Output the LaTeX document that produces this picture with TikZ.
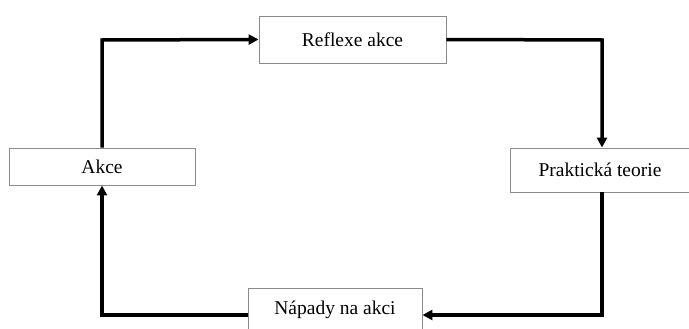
\documentclass[tikz,border=0pt]{standalone}
\usepackage{fontspec}
\setmainfont{Liberation Serif}
\usetikzlibrary{arrows.meta}
\begin{document}
\begin{tikzpicture}[x=1pt,y=-1pt,
  box/.style={draw=black!45, line width=0.9pt, fill=white, inner sep=0pt, font=\fontsize{19.5}{23}\selectfont},
  flow/.style={line width=3.5pt, -{Triangle[length=10pt,width=10pt]}}]
\useasboundingbox (0,0) rectangle (689,329);
\clip (0,0) rectangle (689,329);
\node[box, minimum width=187pt, minimum height=47pt] (refl) at (352.5,39.5) {Reflexe akce};
\node[box, minimum width=182pt, minimum height=44pt] (prak) at (601,170) {};
\node[font=\fontsize{19.5}{23}\selectfont] (praklbl) at (600,170) {Praktická teorie};
\node[box, minimum width=186pt, minimum height=37pt] (akce) at (102,166.5) {Akce};
\node[box, minimum width=174pt, minimum height=45pt] (napa) at (335,310.5) {};
\node[font=\fontsize{19.5}{23}\selectfont] (napalbl) at (335,310) {Nápady na akci};
\coordinate (c1) at (102,40);
\coordinate (c2) at (602,40);
\coordinate (c3) at (602,315);
\coordinate (c4) at (102,315);
\draw[flow] (akce.north) -- (c1) -- (refl.west);
\draw[flow] (refl.east) -- (c2) -- (prak.north -| c2);
\draw[flow] (prak.south -| c3) -- (c3) -- (napa.east |- c3);
\draw[flow] (napa.west |- c4) -- (c4) -- (akce.south);
\end{tikzpicture}
\end{document}
